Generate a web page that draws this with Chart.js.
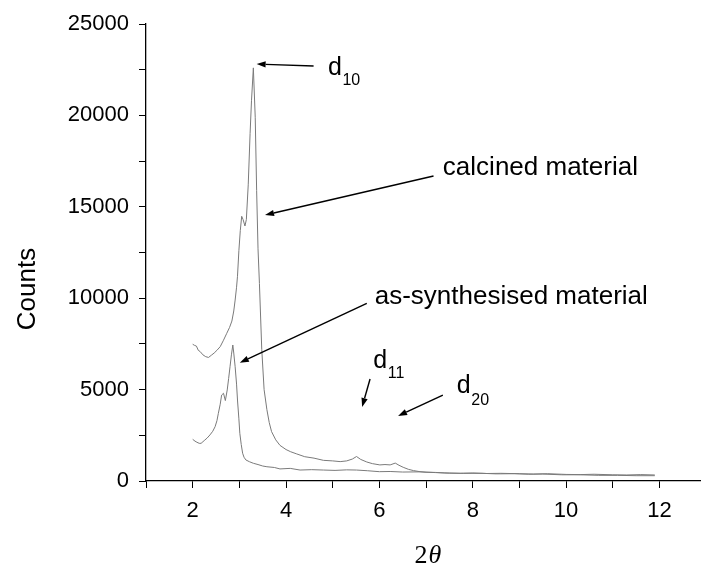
<!DOCTYPE html>
<html>
	<head>
		<title>XRD patterns</title>
		<meta charset="utf-8">
		<script src="https://cdn.jsdelivr.net/npm/chart.js"></script>
		<style>
			body { margin: 0; background: #fff; }
		</style>
	</head>
	<body>

		<canvas id="xrd" width="701" height="566"></canvas>

		<script>

			// Calcined material (upper curve), 2theta and counts.
			const calcX = [
				2.00, 2.04, 2.08, 2.12, 2.16, 2.22, 2.28, 2.34, 2.40, 2.46, 2.52, 2.59, 2.66, 2.73, 2.79, 2.84,
				2.88, 2.91, 2.94, 2.96, 2.99, 3.02, 3.05, 3.08, 3.12, 3.15, 3.19, 3.23, 3.26, 3.30, 3.34, 3.37,
				3.40, 3.43, 3.48, 3.53, 3.59, 3.64, 3.69, 3.78, 3.87, 4.00, 4.10, 4.23, 4.40, 4.60, 4.80, 5.00,
				5.16, 5.30, 5.42, 5.51, 5.60, 5.73, 5.85, 6.01, 6.12, 6.23, 6.34, 6.42, 6.51, 6.62, 6.73, 6.87,
				7.00, 7.20, 7.40, 7.73, 8.00, 8.30, 8.60, 9.00, 9.30, 9.60, 10.00, 10.30, 10.60, 11.00, 11.30, 11.60, 11.90
			];
			const calcCounts = [
				7480, 7420, 7380, 7150, 7080, 6900, 6800, 6760, 6880, 7000, 7150, 7350, 7700, 8080, 8400, 8750,
				9300, 9900, 10600, 11200, 12600, 13700, 14480, 14300, 13950, 14300, 16200, 19000, 20800, 22600, 19900, 15900,
				12700, 10800, 7200, 5000, 3900, 3200, 2700, 2250, 1950, 1720, 1600, 1480, 1330, 1250, 1130, 1100,
				1060, 1100, 1200, 1340, 1180, 1040, 950, 880, 900, 880, 980, 860, 750, 640, 570, 510,
				480, 470, 440, 420, 440, 410, 420, 400, 380, 400, 360, 350, 370, 340, 330, 350, 330
			];

			// As-synthesised material (lower curve).
			const asX = [
				2.00, 2.05, 2.09, 2.14, 2.18, 2.22, 2.26, 2.31, 2.37, 2.43, 2.48, 2.52, 2.55, 2.59, 2.62, 2.66,
				2.70, 2.74, 2.77, 2.80, 2.83, 2.86, 2.88, 2.91, 2.94, 2.96, 2.99, 3.01, 3.04, 3.07, 3.10, 3.14,
				3.22, 3.30, 3.40, 3.50, 3.59, 3.75, 3.87, 4.09, 4.30, 4.55, 4.80, 5.05, 5.30, 5.51, 5.75, 6.00,
				6.23, 6.50, 6.87, 7.20, 7.50, 7.80, 8.20, 8.50, 8.90, 9.20, 9.50, 9.90, 10.30, 10.70, 11.10, 11.50, 11.90
			];
			const asCounts = [
				2280, 2180, 2120, 2060, 2060, 2150, 2240, 2350, 2520, 2720, 2970, 3300, 3700, 4200, 4700, 4800,
				4400, 4980, 5600, 6250, 6900, 7440, 7000, 6250, 5300, 4430, 3400, 2610, 2000, 1520, 1300, 1150,
				1050, 970, 900, 820, 780, 740, 660, 690, 600, 620, 600, 580, 610, 600, 560, 510,
				520, 490, 500, 460, 430, 420, 420, 390, 400, 370, 380, 340, 340, 310, 310, 290, 290
			];

			// Axis ticks.
			const xTicks = [1, 2, 3, 4, 5, 6, 7, 8, 9, 10, 11, 12];
			const yTicks = [0, 2500, 5000, 7500, 10000, 12500, 15000, 17500, 20000, 22500, 25000];

			// Annotations, in data units: text (with optional subscript) and arrows (tail -> head).
			const labels = [
				{ text: 'd', sub: '10', x: 4.90, y: 22210, subY: 21670 },
				{ text: 'calcined material', x: 7.36, y: 16740 },
				{ text: 'as-synthesised material', x: 5.90, y: 9680 },
				{ text: 'd', sub: '11', x: 5.87, y: 6165, subY: 5635 },
				{ text: 'd', sub: '20', x: 7.66, y: 4800, subY: 4160 }
			];
			const arrows = [
				[4.59, 22700, 3.37, 22810],
				[7.16, 16685, 3.55, 14550],
				[5.73, 9720, 3.01, 6470],
				[5.80, 5580, 5.63, 4050],
				[7.36, 4700, 6.40, 3555]
			];


			const toPoints = (xs, ys) => xs.map((v, i) => ({ x: v, y: ys[i] }));
			const tickFont = { family: 'Liberation Sans', size: 22 };

			// Draws axis titles and the annotations on top of the chart.
			const annotate = {
				id: 'annotate',
				afterDraw(chart) {
					const ctx = chart.ctx;
					const sx = chart.scales.x;
					const sy = chart.scales.y;
					ctx.save();
					ctx.fillStyle = '#000';
					ctx.strokeStyle = '#000';
					ctx.textBaseline = 'alphabetic';
					ctx.textAlign = 'left';

					for (const l of labels) {
						const px = sx.getPixelForValue(l.x);
						if (l.sub) {
							ctx.font = '25px "Liberation Sans"';
							ctx.fillText(l.text, px, sy.getPixelForValue(l.y));
							const w = ctx.measureText(l.text).width;
							ctx.font = '16px "Liberation Sans"';
							ctx.fillText(l.sub, px + w + 0.5, sy.getPixelForValue(l.subY));
						} else {
							ctx.font = '26px "Liberation Sans"';
							ctx.fillText(l.text, px, sy.getPixelForValue(l.y));
						}
					}

					ctx.lineWidth = 1.4;
					for (const a of arrows) {
						const x0 = sx.getPixelForValue(a[0]), y0 = sy.getPixelForValue(a[1]);
						const x1 = sx.getPixelForValue(a[2]), y1 = sy.getPixelForValue(a[3]);
						const ang = Math.atan2(y1 - y0, x1 - x0);
						const hl = 9, hw = 3.2;
						const bx = x1 - hl * Math.cos(ang), by = y1 - hl * Math.sin(ang);
						ctx.beginPath();
						ctx.moveTo(x0, y0);
						ctx.lineTo(bx, by);
						ctx.stroke();
						ctx.beginPath();
						ctx.moveTo(x1, y1);
						ctx.lineTo(bx + hw * Math.sin(ang), by - hw * Math.cos(ang));
						ctx.lineTo(bx - hw * Math.sin(ang), by + hw * Math.cos(ang));
						ctx.closePath();
						ctx.fill();
					}

					// y title
					ctx.save();
					ctx.translate(35, 289);
					ctx.rotate(-Math.PI / 2);
					ctx.textAlign = 'center';
					ctx.font = '26px "Liberation Sans"';
					ctx.fillText('Counts', 0, 0);
					ctx.restore();

					// x title: upright 2, italic theta
					const cx = (chart.chartArea.left + chart.chartArea.right) / 2 + 4;
					ctx.font = '26px "Liberation Serif"';
					const w2 = ctx.measureText('2').width;
					ctx.font = 'italic 26px "Liberation Serif"';
					const wt = ctx.measureText('\u03b8').width;
					const start = cx - (w2 + wt) / 2;
					ctx.font = '26px "Liberation Serif"';
					ctx.fillText('2', start, 563);
					ctx.font = 'italic 26px "Liberation Serif"';
					ctx.fillText('\u03b8', start + w2 + 1, 563);

					ctx.restore();
				}
			};

			new Chart(document.getElementById('xrd'), {
				type: 'line',
				data: {
					datasets: [
						{
							label: 'calcined material',
							data: toPoints(calcX, calcCounts),
							borderColor: '#7a7a7a',
							borderWidth: 1,
							pointRadius: 0,
							tension: 0
						},
						{
							label: 'as-synthesised material',
							data: toPoints(asX, asCounts),
							borderColor: '#7a7a7a',
							borderWidth: 1,
							pointRadius: 0,
							tension: 0
						}
					]
				},
				options: {
					responsive: false,
					devicePixelRatio: 1,
					animation: false,
					layout: { padding: { top: 24, right: 0, left: 0, bottom: 0 } },
					plugins: {
						legend: { display: false },
						tooltip: { enabled: false }
					},
					scales: {
						x: {
							type: 'linear',
							min: 1,
							max: 12.89,
							afterBuildTicks: s => { s.ticks = xTicks.map(v => ({ value: v })); },
							afterFit: s => { s.height = 85; },
							ticks: {
								autoSkip: false,
								maxRotation: 0,
								padding: 10,
								color: '#000',
								font: tickFont,
								callback: v => (v % 2 === 0 ? v : '')
							},
							grid: { drawOnChartArea: false, tickLength: 7, tickColor: '#000', color: '#000' },
							border: { color: '#000', width: 1.3 }
						},
						y: {
							type: 'linear',
							min: 0,
							max: 25000,
							afterBuildTicks: s => { s.ticks = yTicks.map(v => ({ value: v })); },
							afterFit: s => { s.width = 146; },
							ticks: {
								autoSkip: false,
								padding: 10,
								color: '#000',
								font: tickFont,
								callback: v => (v % 5000 === 0 ? v : '')
							},
							grid: { drawOnChartArea: false, tickLength: 7, tickColor: '#000', color: '#000' },
							border: { color: '#000', width: 1.3 }
						}
					}
				},
				plugins: [annotate]
			});

		</script>

	</body>
</html>
